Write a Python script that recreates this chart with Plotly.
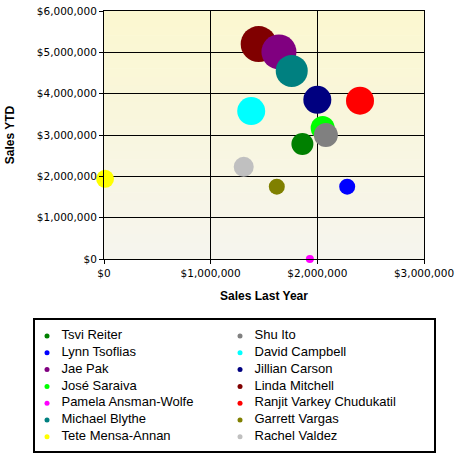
import plotly.graph_objects as go

# sales people, column order as the legend shows them
names = ["Tsvi Reiter", "Lynn Tsoflias", "Jae Pak", "José Saraiva",
         "Pamela Ansman-Wolfe", "Michael Blythe", "Tete Mensa-Annan",
         "Shu Ito", "David Campbell", "Jillian Carson", "Linda Mitchell",
         "Ranjit Varkey Chudukatil", "Garrett Vargas", "Rachel Valdez"]
sales_last_year = [1860000, 2280000, 1640000, 2050000, 1930000, 1760000, 10000,
                   2080000, 1380000, 2000000, 1450000, 2400000, 1620000, 1310000]
sales_ytd = [2780000, 1750000, 5010000, 3170000, 0, 4550000, 1940000,
             3000000, 3580000, 3850000, 5200000, 3830000, 1750000, 2230000]
bubble = [22, 16, 35, 24, 8, 32, 18, 24, 28, 28, 36, 28, 16, 20]
colors = ["#008000", "#0000FF", "#800080", "#00FF00", "#FF00FF", "#008080", "#FFFF00",
          "#808080", "#00FFFF", "#000080", "#800000", "#FF0000", "#808000", "#C0C0C0"]

x_ticks = [0, 1000000, 2000000, 3000000]
y_ticks = [0, 1000000, 2000000, 3000000, 4000000, 5000000, 6000000]

W, H = 458, 463


def px_x(p):
    return p / W


def px_y(p):
    return 1 - p / H


fig = go.Figure()

# bubbles, biggest first so the small ones stay on top
order = sorted(range(len(names)), key=lambda i: -bubble[i])
for i in order:
    fig.add_trace(go.Scatter(
        x=[sales_last_year[i]], y=[sales_ytd[i]], mode="markers", name=names[i],
        marker=dict(size=bubble[i], color=colors[i], opacity=1, line=dict(width=0)),
        showlegend=False, cliponaxis=False, hoverinfo="name+x+y"))

# legend drawn on its own hidden axes: two columns of seven
col = [i // 7 for i in range(len(names))]
row = [i % 7 for i in range(len(names))]
fig.add_trace(go.Scatter(
    x=col, y=row, xaxis="x2", yaxis="y2", mode="markers",
    marker=dict(size=5, color=colors), showlegend=False, hoverinfo="skip"))
fig.add_trace(go.Scatter(
    x=[c + 0.075 for c in col], y=row, xaxis="x2", yaxis="y2", mode="text",
    text=names, textposition="middle right", showlegend=False, hoverinfo="skip",
    textfont=dict(family="Liberation Sans, Arial", size=13, color="#000000"),
    cliponaxis=False))

# light yellow to off-white gradient behind the grid
top, bottom = (251, 247, 208), (246, 245, 238)
n_bands = 30
bands = []
for k in range(n_bands):
    t = k / (n_bands - 1)
    c = tuple(round(bottom[j] + (top[j] - bottom[j]) * t) for j in range(3))
    bands.append(dict(type="rect", xref="x domain", yref="y domain", layer="below",
                      x0=0, x1=1, y0=k / n_bands, y1=(k + 1) / n_bands + 0.002,
                      line=dict(width=0), fillcolor="rgb(%d,%d,%d)" % c))

tick_font = dict(family="DejaVu Sans, Verdana", size=10.5, color="#000000")
title_font = dict(family="Liberation Sans, Arial", size=12, color="#000000")

fig.update_layout(
    width=W, height=H,
    margin=dict(l=0, r=0, t=0, b=0, autoexpand=False),
    paper_bgcolor="white",
    plot_bgcolor="white",
    showlegend=False,
    xaxis=dict(domain=[px_x(104), px_x(424)], range=[0, 3000000], tickvals=x_ticks,
               ticktext=["$" + format(v, ",") for v in x_ticks],
               showgrid=True, gridcolor="black", gridwidth=1,
               showline=True, linecolor="black", linewidth=1, mirror=True,
               ticks="outside", ticklen=4, tickcolor="black", zeroline=False,
               tickfont=tick_font, ticklabeloverflow="allow",
               title=dict(text="<b>Sales Last Year</b>", standoff=14, font=title_font)),
    yaxis=dict(domain=[px_y(259), px_y(11)], range=[0, 6000000], tickvals=y_ticks,
               ticktext=["$" + format(v, ",") for v in y_ticks],
               showgrid=True, gridcolor="black", gridwidth=1,
               showline=True, linecolor="black", linewidth=1, mirror=True,
               ticks="outside", ticklen=4, tickcolor="black", zeroline=False,
               tickfont=tick_font, ticklabeloverflow="allow",
               title=dict(text="<b>Sales YTD</b>", standoff=19, font=title_font)),
    xaxis2=dict(domain=[px_x(35), px_x(434)], range=[-0.0622, 2.005], anchor="y2",
                showgrid=False, zeroline=False, showticklabels=False, ticks="",
                showline=True, linecolor="black", linewidth=1.5, mirror=True,
                fixedrange=True),
    yaxis2=dict(domain=[px_y(451), px_y(320)], range=[6.845, -0.952], anchor="x2",
                showgrid=False, zeroline=False, showticklabels=False, ticks="",
                showline=True, linecolor="black", linewidth=1.5, mirror=True,
                fixedrange=True),
    shapes=bands,
)

# drop the browser's default body margin so the figure sits at the page corner
fig.write_html("out.html", config={"displayModeBar": False},
               post_script="document.body.style.margin = '0px';")
